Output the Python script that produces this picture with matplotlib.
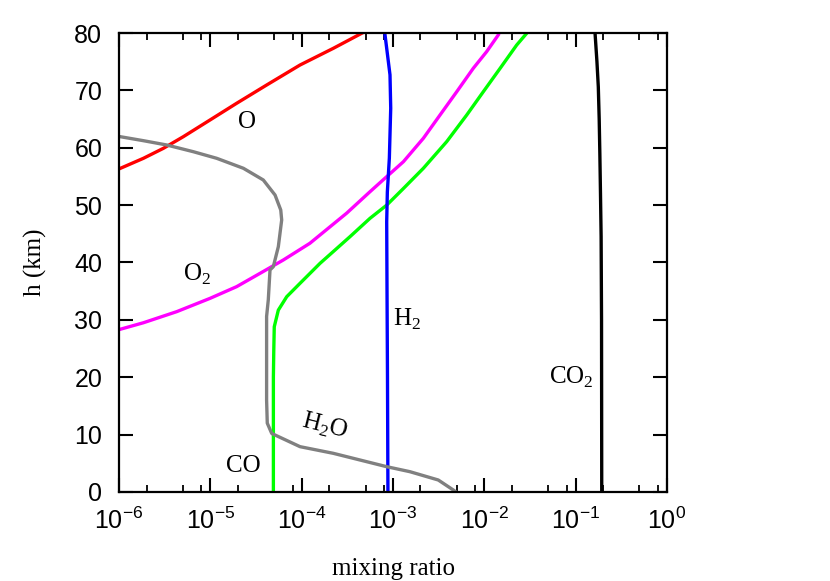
import matplotlib
matplotlib.use("Agg")
import matplotlib.pyplot as plt
from matplotlib.ticker import FixedLocator, NullFormatter

sans = ["Liberation Sans", "DejaVu Sans"]
serif = ["Liberation Serif", "DejaVu Serif"]

# altitude (km) and mixing ratio for each species
co2_h = [0, 30, 44.5, 52, 59, 65, 70.6, 75, 80]
co2_v = [0.193, 0.192, 0.190, 0.187, 0.184, 0.181, 0.177, 0.171, 0.163]

h2_h = [0, 20, 35, 47.1, 52.3, 58.2, 66.9, 72.7, 79.65, 80]
h2_v = [8.8e-4, 8.7e-4, 8.6e-4, 8.53e-4, 8.67e-4, 9.12e-4, 9.44e-4, 9.27e-4, 8.18e-4, 8.1e-4]

co_h = [0, 10, 20, 24.75, 28.8, 31.7, 34.04, 36.37, 39.86, 42.18, 44.5, 47.7, 50.0,
        52.9, 56.42, 61.06, 65.7, 69.77, 73.85, 77.9, 79.95]
co_v = [4.9e-5, 4.9e-5, 4.9e-5, 4.95e-5, 5.01e-5, 5.55e-5, 6.86e-5, 9.59e-5, 1.59e-4,
        2.32e-4, 3.38e-4, 5.60e-4, 8.53e-4, 1.30e-3, 2.15e-3, 3.87e-3, 6.41e-3,
        9.75e-3, 1.49e-2, 2.26e-2, 2.91e-2]

o2_h = [28.36, 29.5, 31.43, 33.75, 35.79, 38.11, 40.44, 43.35, 48.6, 52.34, 54.96,
        57.57, 61.65, 65.7, 69.77, 73.85, 76.75, 79.65]
o2_v = [1.03e-6, 1.85e-6, 4.28e-6, 9.92e-6, 1.94e-5, 3.50e-5, 6.30e-5, 1.23e-4,
        3.11e-4, 5.60e-4, 8.53e-4, 1.30e-3, 2.15e-3, 3.27e-3, 4.99e-3, 7.57e-3,
        1.06e-2, 1.42e-2]

o_h = [56.4, 58.16, 59.9, 61.93, 64.84, 67.75, 70.94, 74.42, 77.33, 79.95]
o_v = [1.03e-6, 1.85e-6, 3.06e-6, 5.06e-6, 9.92e-6, 1.94e-5, 4.14e-5, 9.59e-5,
       2.22e-4, 4.54e-4]

h2o_h = [0, 0.35, 2.09, 3.54, 4.41, 6.74, 7.9, 10.2, 12, 16, 24.7, 30.6, 33.5, 38.7,
         39.27, 42.75, 47.41, 49.15, 51.76, 54.38, 56.42, 58.16, 59.31, 60.48,
         61.23, 61.93]
h2o_v = [4.9e-3, 4.57e-3, 3.13e-3, 1.53e-3, 8.53e-4, 2.22e-4, 9.59e-5, 4.70e-5,
         4.2e-5, 4.13e-5, 4.13e-5, 4.13e-5, 4.31e-5, 4.5e-5, 4.89e-5, 5.55e-5,
         6.04e-5, 5.90e-5, 5.11e-5, 3.80e-5, 2.30e-5, 1.174e-5, 6.51e-6, 3.33e-6,
         1.85e-6, 1.03e-6]

xticks = [1e-6, 1e-5, 1e-4, 1e-3, 1e-2, 1e-1, 1e0]
xlabels = ["-6", "-5", "-4", "-3", "-2", "-1", "0"]
yticks = [0, 10, 20, 30, 40, 50, 60, 70, 80]

fig = plt.figure(figsize=(8.3, 5.81), dpi=100)
ax = fig.add_axes([0.1434, 0.1532, 0.6602, 0.79])

lw = 2.4
ax.plot(o_v, o_h, color="#ff0000", lw=lw)
ax.plot(o2_v, o2_h, color="#ff00ff", lw=lw)
ax.plot(co_v, co_h, color="#00ff00", lw=lw)
ax.plot(h2_v, h2_h, color="#0000ff", lw=lw)
ax.plot(co2_v, co2_h, color="black", lw=lw)
ax.plot(h2o_v, h2o_h, color="#808080", lw=lw)

ax.set_xscale("log")
ax.set_xlim(1e-6, 1)
ax.set_ylim(0, 80)

ax.xaxis.set_major_locator(FixedLocator(xticks))
ax.set_xticklabels([r"$\mathregular{10^{%s}}$" % s for s in xlabels])
minors = [m * d for d in xticks[:-1] for m in (2, 5, 8)]
ax.xaxis.set_minor_locator(FixedLocator(minors))
ax.xaxis.set_minor_formatter(NullFormatter())
ax.set_yticks(yticks)

ax.tick_params(which="major", direction="in", length=10, width=1.5,
               top=True, right=True, labelsize=18)
ax.tick_params(axis="y", which="major", pad=12)
ax.tick_params(axis="x", which="major", pad=11.5)
ax.tick_params(which="minor", direction="in", length=5, width=1.3,
               top=True, right=True)
ax.tick_params(axis="y", which="minor", left=False, right=False)
for lab in ax.get_xticklabels() + ax.get_yticklabels():
    lab.set_family(sans)
for sp in ax.spines.values():
    sp.set_linewidth(1.6)

ax.set_xlabel("mixing ratio", family=serif, fontsize=18, labelpad=17)
ax.set_ylabel("h (km)", family=serif, fontsize=18, labelpad=20)

kw = dict(family=serif, fontsize=18, ha="left", va="baseline")
ax.text(2.02e-5, 63.4, "O", **kw)
ax.text(4.98e-6, 36.83, r"O$_\mathregular{2}$", **kw)
ax.text(1.007e-3, 28.93, r"H$_\mathregular{2}$", **kw)
ax.text(5.15e-2, 18.94, r"CO$_\mathregular{2}$", **kw)
ax.text(1.485e-5, 3.54, "CO", **kw)
ax.text(1.8e-4, 11.38, r"H$_\mathregular{2}$O", family=serif, fontsize=18,
        ha="center", va="center", rotation=-14)

fig.savefig("out.png", dpi=100)
